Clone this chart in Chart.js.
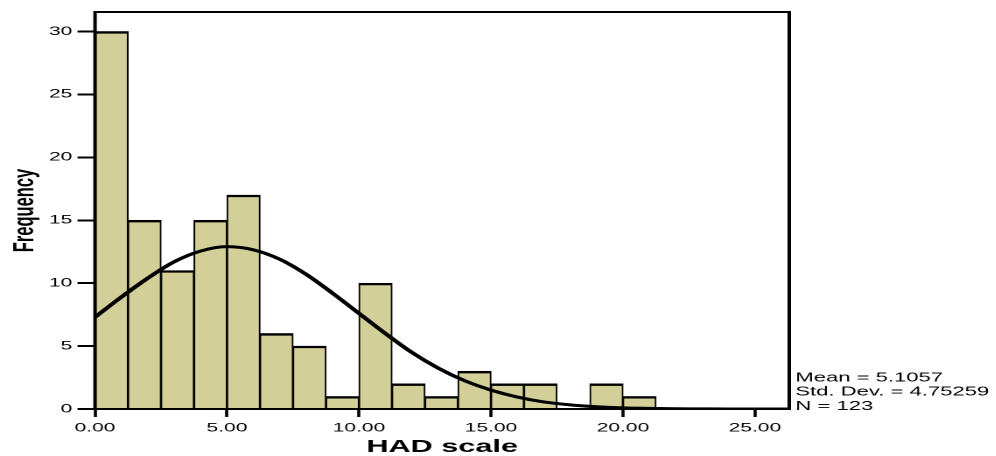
<!DOCTYPE html>
<html>
<head>
<meta charset="utf-8">
<script src="https://cdn.jsdelivr.net/npm/chart.js@4/dist/chart.umd.min.js"></script>
<style>
  html, body { margin: 0; padding: 0; background: #fff; overflow: hidden; }
  #wrap { width: 569px; height: 456px; transform: scaleX(1.75); transform-origin: 0 0; }
</style>
</head>
<body>
<div id="wrap"><canvas id="chart"></canvas></div>
<script>
// histogram bins (start of each bin) and counts
const binWidth = 1.25;
const binStarts = [0, 1.25, 2.5, 3.75, 5, 6.25, 7.5, 8.75, 10, 11.25, 12.5, 13.75, 15, 16.25, 17.5, 18.75, 20];
const counts = [30, 15, 11, 15, 17, 6, 5, 1, 10, 2, 1, 3, 2, 2, 0, 2, 1];

// normal curve
const curveX = [0, 1, 2, 3, 4, 5, 6, 7, 8, 9, 10, 11, 12, 13, 14, 15, 16, 17, 18, 19, 20, 21, 22, 23, 24, 25, 26, 26.3];
const curveY = [7.3, 8.9, 10.4, 11.7, 12.55, 12.9, 12.65, 11.9, 10.7, 9.2, 7.6, 6.0, 4.5, 3.25, 2.25, 1.5, 0.95, 0.56, 0.33, 0.18, 0.09, 0.05, 0.02, 0.01, 0, 0, 0, 0];

const xTicks = [0, 5, 10, 15, 20, 25];
const statLines = ['Mean = 5.1057', 'Std. Dev. = 4.75259', 'N = 123'];

const frame = {
  id: 'frame',
  afterDatasetsDraw(chart) {
    const { ctx, chartArea: a } = chart;
    ctx.save();
    ctx.strokeStyle = '#000';
    ctx.lineWidth = 2;
    ctx.strokeRect(a.left, a.top, a.right - a.left, a.bottom - a.top);
    ctx.fillStyle = '#000';
    ctx.font = '12.6px "Liberation Sans", Arial, sans-serif';
    ctx.textAlign = 'left';
    ctx.textBaseline = 'alphabetic';
    statLines.forEach((t, i) => {
      ctx.fillText(t, a.right + 3.5, a.bottom + 1 - 14.3 * (statLines.length - 1 - i));
    });
    ctx.restore();
  }
};

const ctx = document.getElementById('chart').getContext('2d');
new Chart(ctx, {
  type: 'bar',
  data: {
    datasets: [
      {
        type: 'line',
        data: curveX.map((x, i) => ({ x: x, y: curveY[i] })),
        borderColor: '#000',
        borderWidth: 3,
        pointRadius: 0,
        fill: false,
        cubicInterpolationMode: 'monotone',
        order: 0
      },
      {
        type: 'bar',
        data: binStarts.map((s, i) => ({ x: s + binWidth / 2, y: counts[i] })),
        backgroundColor: '#d3cf99',
        borderColor: '#000',
        borderWidth: { top: 2.4, left: 1, right: 1, bottom: 0 },
        borderSkipped: false,
        barPercentage: 1,
        categoryPercentage: 1,
        order: 1
      }
    ]
  },
  options: {
    responsive: true,
    maintainAspectRatio: false,
    animation: false,
    devicePixelRatio: 2,
    layout: { padding: { top: 12, right: 118, left: 0, bottom: 0 } },
    plugins: { legend: { display: false }, tooltip: { enabled: false } },
    scales: {
      x: {
        type: 'linear',
        min: 0,
        max: 26.3,
        offset: false,
        afterFit: (s) => { s.height = 47; },
        afterBuildTicks: (s) => { s.ticks = xTicks.map(v => ({ value: v })); },
        ticks: {
          color: '#000',
          font: { family: '"Liberation Sans", Arial, sans-serif', size: 12 },
          padding: 4,
          maxRotation: 0,
          autoSkip: false,
          callback: (v) => Number(v).toFixed(2)
        },
        grid: { offset: false, drawOnChartArea: false, tickLength: 8, tickColor: '#000', tickWidth: 1.8 },
        border: { display: false },
        title: {
          display: true,
          text: 'HAD scale',
          color: '#000',
          font: { family: '"Liberation Sans", Arial, sans-serif', size: 17.5, weight: 'bold', lineHeight: 1 },
          padding: { top: 0, bottom: 0 }
        }
      },
      y: {
        min: 0,
        max: 31.55,
        afterFit: (s) => { s.width = 54.3; },
        ticks: {
          stepSize: 5,
          includeBounds: false,
          color: '#000',
          font: { family: '"Liberation Sans", Arial, sans-serif', size: 12 },
          padding: 3
        },
        grid: { drawOnChartArea: false, tickLength: 10, tickColor: '#000', tickWidth: 2 },
        border: { display: false },
        title: {
          display: true,
          text: 'Frequency',
          color: '#000',
          font: { family: '"Liberation Sans", Arial, sans-serif', size: 16.5, weight: 'bold', lineHeight: 1 },
          padding: { top: 6, bottom: 0 }
        }
      }
    }
  },
  plugins: [frame]
});
</script>
</body>
</html>
